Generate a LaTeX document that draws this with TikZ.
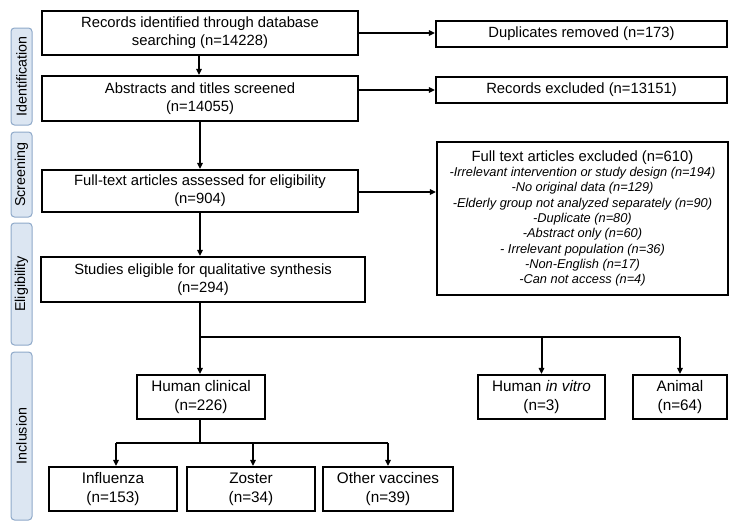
\documentclass[tikz,border=0pt]{standalone}
\usepackage{fontspec}
\setmainfont{Liberation Sans}
\usetikzlibrary{arrows.meta,calc}
\definecolor{sidefill}{HTML}{DCE6F2}
\definecolor{sideline}{HTML}{8FA9C9}
\begin{document}
\begin{tikzpicture}[x=1pt,y=-1pt,
  box/.style={draw=black,line width=2.2pt,fill=white,align=center,inner sep=1pt,
    font=\fontsize{14.8}{18}\selectfont},
  sbox/.style={box,font=\fontsize{15.3}{19}\selectfont},
  listbox/.style={draw=black,line width=2.2pt,fill=white,align=center,inner sep=1pt,
    font=\fontsize{12.8}{15.3}\selectfont},
  side/.style={draw=sideline,line width=1pt,fill=sidefill,rounded corners=3.5pt,
    rotate=90,inner sep=0pt,font=\fontsize{14.3}{16}\selectfont},
  conn/.style={line width=2pt,-{Triangle[length=6pt,width=5.5pt]}},
  seg/.style={line width=2pt}]
\useasboundingbox (0,0) rectangle (740,522);
% side labels
\node[side,minimum width=97pt,minimum height=21pt] (sid) at (21.5,76.5) {Identification};
\node[side,minimum width=85pt,minimum height=21pt] (ssc) at (21.5,174.5) {Screening};
\node[side,minimum width=122pt,minimum height=21pt] (sel) at (21.5,284) {Eligibility};
\node[side,minimum width=168pt,minimum height=21pt] (sin) at (21.5,436) {Inclusion};
% main boxes
\node[box,minimum width=316pt,minimum height=44pt] (b1) at (200,33) {Records identified through database\\searching (n=14228)};
\node[box,minimum width=316pt,minimum height=45pt] (b2) at (200,98.5) {Abstracts and titles screened\\(n=14055)};
\node[box,minimum width=316pt,minimum height=42pt] (b3) at (200,191) {Full-text articles assessed for eligibility\\(n=904)};
\node[box,minimum width=324pt,minimum height=45pt] (b4) at (203,279.5) {Studies eligible for qualitative synthesis\\(n=294)};
% right boxes
\node[box,minimum width=291pt,minimum height=26pt] (dup) at (581.5,34) {Duplicates removed (n=173)};
\node[box,minimum width=291pt,minimum height=26pt] (rex) at (581.5,90) {Records excluded (n=13151)};
\node[listbox,minimum width=291pt,minimum height=153pt] (fte) at (582.5,218.5)
  {{\fontsize{14.8}{17}\selectfont Full text articles excluded (n=610)}\\
   \itshape -Irrelevant intervention or study design (n=194)\\
   \itshape -No original data (n=129)\\
   \itshape -Elderly group not analyzed separately (n=90)\\
   \itshape -Duplicate (n=80)\\
   \itshape -Abstract only (n=60)\\
   \itshape - Irrelevant population (n=36)\\
   \itshape -Non-English (n=17)\\
   \itshape -Can not access (n=4)};
% inclusion boxes
\node[sbox,minimum width=128pt,minimum height=44pt] (hc) at (201,397) {Human clinical\\(n=226)};
\node[sbox,minimum width=127pt,minimum height=44pt] (hiv) at (541.5,397) {Human \textit{in vitro}\\(n=3)};
\node[sbox,minimum width=94pt,minimum height=44pt] (ani) at (680,397) {Animal\\(n=64)};
\node[sbox,minimum width=128pt,minimum height=44pt] (inf) at (113,489) {Influenza\\(n=153)};
\node[sbox,minimum width=128pt,minimum height=44pt] (zos) at (251,489) {Zoster\\(n=34)};
\node[sbox,minimum width=130pt,minimum height=44pt] (oth) at (388,489) {Other vaccines\\(n=39)};
% coordinates
\coordinate (j1) at (200,337);
\coordinate (j2) at (200,443);
\coordinate (e3) at (0,192);
% connectors
\draw[conn] (b1.south -| 199,0) -- (b2.north -| 199,0);
\draw[conn] (b2.south -| j1) -- (b3.north -| j1);
\draw[conn] (b3.south -| j1) -- (b4.north -| j1);
\draw[conn] (b1.east) -- (b1.east -| dup.west);
\draw[conn] (b2.east |- rex.west) -- (rex.west);
\draw[conn] (b3.east |- e3) -- (fte.west |- e3);
\draw[seg] (b4.south -| j1) -- (j1) -- (j1 -| ani.north);
\draw[conn] (j1) -- (hc.north -| j1);
\draw[conn] (j1 -| hiv.north) -- (hiv.north);
\draw[conn] (j1 -| ani.north) -- (ani.north);
\draw[seg] (hc.south -| j2) -- (j2);
\draw[seg] (j2 -| 116,0) -- (j2 -| oth.north);
\draw[conn] (j2 -| 116,0) -- (inf.north -| 116,0);
\draw[conn] (j2 -| 253,0) -- (zos.north -| 253,0);
\draw[conn] (j2 -| oth.north) -- (oth.north);
\end{tikzpicture}
\end{document}
